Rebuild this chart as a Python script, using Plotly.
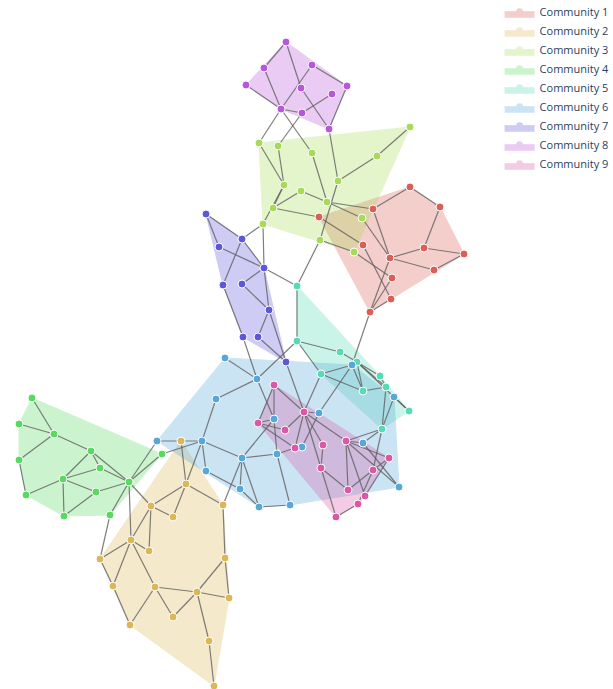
import plotly.graph_objects as go

# Node layout positions (x, y) per community; y grows downward.
comm1_x = [410, 440, 373, 319, 363, 424, 464, 390, 434, 392, 391, 370]
comm1_y = [187, 207, 209, 217, 245, 248, 254, 258, 270, 278, 299, 312]

comm2_x = [181, 186, 151, 173, 223, 131, 149, 100, 225, 113, 155, 197, 229, 173, 130, 209, 214]
comm2_y = [441, 484, 506, 517, 505, 540, 551, 559, 558, 586, 587, 592, 598, 617, 625, 641, 686]

comm3_x = [410, 259, 278, 312, 377, 338, 284, 301, 327, 273, 362, 263, 320, 354]
comm3_y = [127, 143, 146, 153, 156, 181, 185, 191, 202, 208, 218, 224, 240, 252]

comm4_x = [32, 19, 54, 91, 162, 19, 100, 63, 129, 96, 26, 110, 64]
comm4_y = [398, 424, 434, 451, 454, 460, 468, 479, 482, 492, 495, 515, 516]

comm5_x = [297, 297, 340, 357, 321, 380, 386, 363, 409, 382]
comm5_y = [286, 341, 352, 362, 374, 376, 387, 391, 411, 429]

comm6_x = [225, 352, 257, 394, 216, 319, 274, 157, 202, 363, 302, 277, 242, 206, 399, 240, 290, 259]
comm6_y = [358, 365, 379, 397, 399, 413, 419, 441, 441, 443, 447, 454, 458, 471, 487, 489, 505, 507]

comm7_x = [206, 242, 219, 264, 223, 242, 269, 243, 258, 286]
comm7_y = [214, 239, 247, 268, 285, 284, 310, 337, 337, 362]

comm8_x = [286, 312, 264, 246, 347, 301, 332, 281, 302, 329]
comm8_y = [42, 65, 68, 85, 86, 88, 94, 109, 113, 129]

comm9_x = [274, 304, 258, 285, 346, 323, 295, 389, 321, 373, 348, 365, 358, 336]
comm9_y = [385, 412, 423, 430, 441, 445, 448, 458, 468, 470, 490, 496, 504, 517]

community_names = ["Community %d" % i for i in range(1, 10)]
community_colors = ["#db5f57", "#dbb757", "#a7db57", "#57db5f", "#57dbb7",
                    "#57a7db", "#5f57db", "#b757db", "#db57a7"]

# Edges as (community, index) pairs
edges = [
    # community 8
    ((8, 0), (8, 2)), ((8, 0), (8, 5)), ((8, 2), (8, 7)), ((8, 3), (8, 7)),
    ((8, 1), (8, 4)), ((8, 1), (8, 7)), ((8, 5), (8, 9)), ((8, 4), (8, 9)),
    ((8, 6), (8, 8)), ((8, 7), (8, 8)),
    ((8, 7), (3, 1)), ((8, 7), (3, 3)), ((8, 8), (3, 2)), ((8, 9), (3, 5)),
    # community 3
    ((3, 1), (3, 6)), ((3, 2), (3, 6)), ((3, 3), (3, 8)), ((3, 5), (3, 4)),
    ((3, 4), (3, 0)), ((3, 5), (3, 12)), ((3, 6), (3, 9)), ((3, 6), (3, 11)),
    ((3, 7), (3, 9)), ((3, 7), (3, 8)), ((3, 8), (3, 10)), ((3, 12), (3, 13)),
    ((3, 8), (1, 2)), ((3, 9), (1, 3)), ((3, 10), (1, 7)), ((3, 13), (1, 9)),
    ((3, 11), (7, 1)), ((3, 11), (7, 3)), ((3, 12), (5, 0)),
    # community 1
    ((1, 2), (1, 0)), ((1, 2), (1, 7)), ((1, 0), (1, 1)), ((1, 1), (1, 5)),
    ((1, 5), (1, 6)), ((1, 5), (1, 7)), ((1, 7), (1, 8)), ((1, 6), (1, 8)),
    ((1, 7), (1, 11)), ((1, 3), (1, 4)), ((1, 4), (1, 10)), ((1, 9), (1, 11)),
    ((1, 10), (1, 11)), ((1, 11), (6, 1)),
    # community 7
    ((7, 0), (7, 1)), ((7, 0), (7, 2)), ((7, 1), (7, 3)), ((7, 2), (7, 3)),
    ((7, 1), (7, 4)), ((7, 3), (7, 5)), ((7, 5), (7, 6)), ((7, 3), (7, 6)),
    ((7, 6), (7, 9)), ((7, 4), (7, 7)), ((7, 6), (7, 8)), ((7, 8), (7, 9)),
    ((7, 3), (5, 0)), ((7, 7), (6, 2)), ((7, 9), (9, 1)),
    # community 5
    ((5, 0), (5, 1)), ((5, 1), (5, 2)), ((5, 1), (5, 4)), ((5, 1), (6, 2)),
    ((5, 2), (5, 3)), ((5, 3), (5, 5)), ((5, 3), (5, 6)), ((5, 3), (5, 7)),
    ((5, 3), (5, 8)), ((5, 5), (5, 6)), ((5, 6), (5, 7)), ((5, 6), (5, 9)),
    ((5, 4), (5, 7)), ((5, 4), (6, 1)), ((6, 1), (5, 3)), ((6, 1), (5, 7)),
    ((5, 9), (6, 3)), ((6, 3), (5, 8)), ((5, 9), (6, 9)),
    # community 6
    ((6, 0), (6, 2)), ((6, 2), (6, 4)), ((6, 2), (6, 6)), ((6, 4), (6, 8)),
    ((6, 7), (6, 8)), ((6, 8), (6, 12)), ((6, 8), (6, 13)), ((6, 13), (6, 15)),
    ((6, 12), (6, 15)), ((6, 12), (6, 17)), ((6, 12), (6, 11)), ((6, 6), (6, 12)),
    ((6, 6), (6, 11)), ((6, 11), (6, 16)), ((6, 16), (6, 17)), ((6, 15), (6, 17)),
    ((6, 5), (6, 10)), ((6, 5), (6, 1)), ((6, 9), (6, 14)),
    ((6, 12), (2, 4)), ((6, 8), (2, 1)), ((6, 7), (4, 8)), ((6, 8), (4, 4)),
    # community 9
    ((9, 0), (9, 2)), ((9, 0), (9, 1)), ((9, 2), (6, 6)), ((9, 2), (9, 3)),
    ((9, 2), (9, 6)), ((9, 1), (9, 3)), ((9, 1), (9, 6)), ((9, 1), (9, 5)),
    ((9, 1), (9, 4)), ((9, 1), (9, 8)), ((9, 1), (6, 5)), ((9, 1), (5, 4)),
    ((9, 6), (6, 10)), ((6, 11), (9, 6)), ((9, 4), (6, 9)), ((9, 4), (9, 7)),
    ((9, 4), (9, 10)), ((9, 4), (9, 11)), ((9, 4), (5, 9)), ((9, 4), (6, 14)),
    ((9, 5), (9, 8)), ((9, 8), (9, 10)), ((9, 8), (9, 13)), ((9, 9), (9, 12)),
    ((9, 9), (9, 7)), ((9, 9), (5, 9)), ((9, 10), (9, 9)), ((9, 11), (9, 7)),
    ((9, 12), (9, 13)), ((9, 0), (6, 6)),
    # community 4
    ((4, 0), (4, 2)), ((4, 1), (4, 2)), ((4, 2), (4, 5)), ((4, 2), (4, 3)),
    ((4, 5), (4, 10)), ((4, 3), (4, 6)), ((4, 3), (4, 7)), ((4, 3), (4, 8)),
    ((4, 6), (4, 7)), ((4, 6), (4, 8)), ((4, 7), (4, 10)), ((4, 7), (4, 9)),
    ((4, 7), (4, 12)), ((4, 9), (4, 12)), ((4, 9), (4, 8)), ((4, 8), (4, 11)),
    ((4, 8), (4, 4)), ((4, 8), (2, 2)), ((4, 8), (2, 5)), ((4, 11), (2, 7)),
    # community 2
    ((2, 0), (2, 1)), ((2, 1), (2, 2)), ((2, 1), (2, 3)), ((2, 1), (2, 4)),
    ((2, 2), (2, 3)), ((2, 2), (2, 6)), ((2, 2), (2, 5)), ((2, 5), (2, 6)),
    ((2, 5), (2, 7)), ((2, 5), (2, 9)), ((2, 5), (2, 10)), ((2, 7), (2, 9)),
    ((2, 9), (2, 14)), ((2, 10), (2, 14)), ((2, 10), (2, 13)), ((2, 10), (2, 11)),
    ((2, 13), (2, 11)), ((2, 11), (2, 8)), ((2, 11), (2, 12)), ((2, 11), (2, 15)),
    ((2, 15), (2, 16)), ((2, 8), (2, 4)), ((2, 8), (2, 12)),
]

xs = [comm1_x, comm2_x, comm3_x, comm4_x, comm5_x, comm6_x, comm7_x, comm8_x, comm9_x]
ys = [comm1_y, comm2_y, comm3_y, comm4_y, comm5_y, comm6_y, comm7_y, comm8_y, comm9_y]


def convex_hull(points):
    pts = sorted(set(points))
    if len(pts) < 3:
        return pts

    def cross(o, a, b):
        return (a[0] - o[0]) * (b[1] - o[1]) - (a[1] - o[1]) * (b[0] - o[0])

    lower, upper = [], []
    for p in pts:
        while len(lower) >= 2 and cross(lower[-2], lower[-1], p) <= 0:
            lower.pop()
        lower.append(p)
    for p in reversed(pts):
        while len(upper) >= 2 and cross(upper[-2], upper[-1], p) <= 0:
            upper.pop()
        upper.append(p)
    return lower[:-1] + upper[:-1]


fig = go.Figure()

# Community hulls (shaded regions, shown in the legend)
for c in range(9):
    hull = convex_hull(list(zip(xs[c], ys[c])))
    hull.append(hull[0])
    fig.add_trace(go.Scatter(
        x=[p[0] for p in hull], y=[p[1] for p in hull],
        mode="lines+markers", fill="toself",
        line=dict(color=community_colors[c], width=1),
        marker=dict(color=community_colors[c], size=7),
        fillcolor=community_colors[c], opacity=0.3,
        name=community_names[c], hoverinfo="skip",
    ))

# Edges
ex, ey = [], []
for (ca, ia), (cb, ib) in edges:
    ex += [xs[ca - 1][ia], xs[cb - 1][ib], None]
    ey += [ys[ca - 1][ia], ys[cb - 1][ib], None]
fig.add_trace(go.Scatter(
    x=ex, y=ey, mode="lines",
    line=dict(color="rgba(95,95,95,0.8)", width=1.2),
    hoverinfo="skip", showlegend=False,
))

# Nodes
for c in range(9):
    fig.add_trace(go.Scatter(
        x=xs[c], y=ys[c], mode="markers",
        marker=dict(color=community_colors[c], size=8,
                    line=dict(color="white", width=1)),
        name=community_names[c], showlegend=False,
    ))

fig.update_layout(
    width=613, height=689,
    margin=dict(l=0, r=0, t=0, b=0, autoexpand=False),
    paper_bgcolor="white", plot_bgcolor="white",
    xaxis=dict(range=[0, 613], visible=False, fixedrange=True),
    yaxis=dict(range=[689, 0], visible=False, fixedrange=True),
    legend=dict(x=0.815, y=1.004, xanchor="left", yanchor="top",
                font=dict(family="Open Sans", size=11, color="#2a3f5f"),
                bgcolor="rgba(255,255,255,0)"),
    showlegend=True,
)

fig.write_html("out.html")
